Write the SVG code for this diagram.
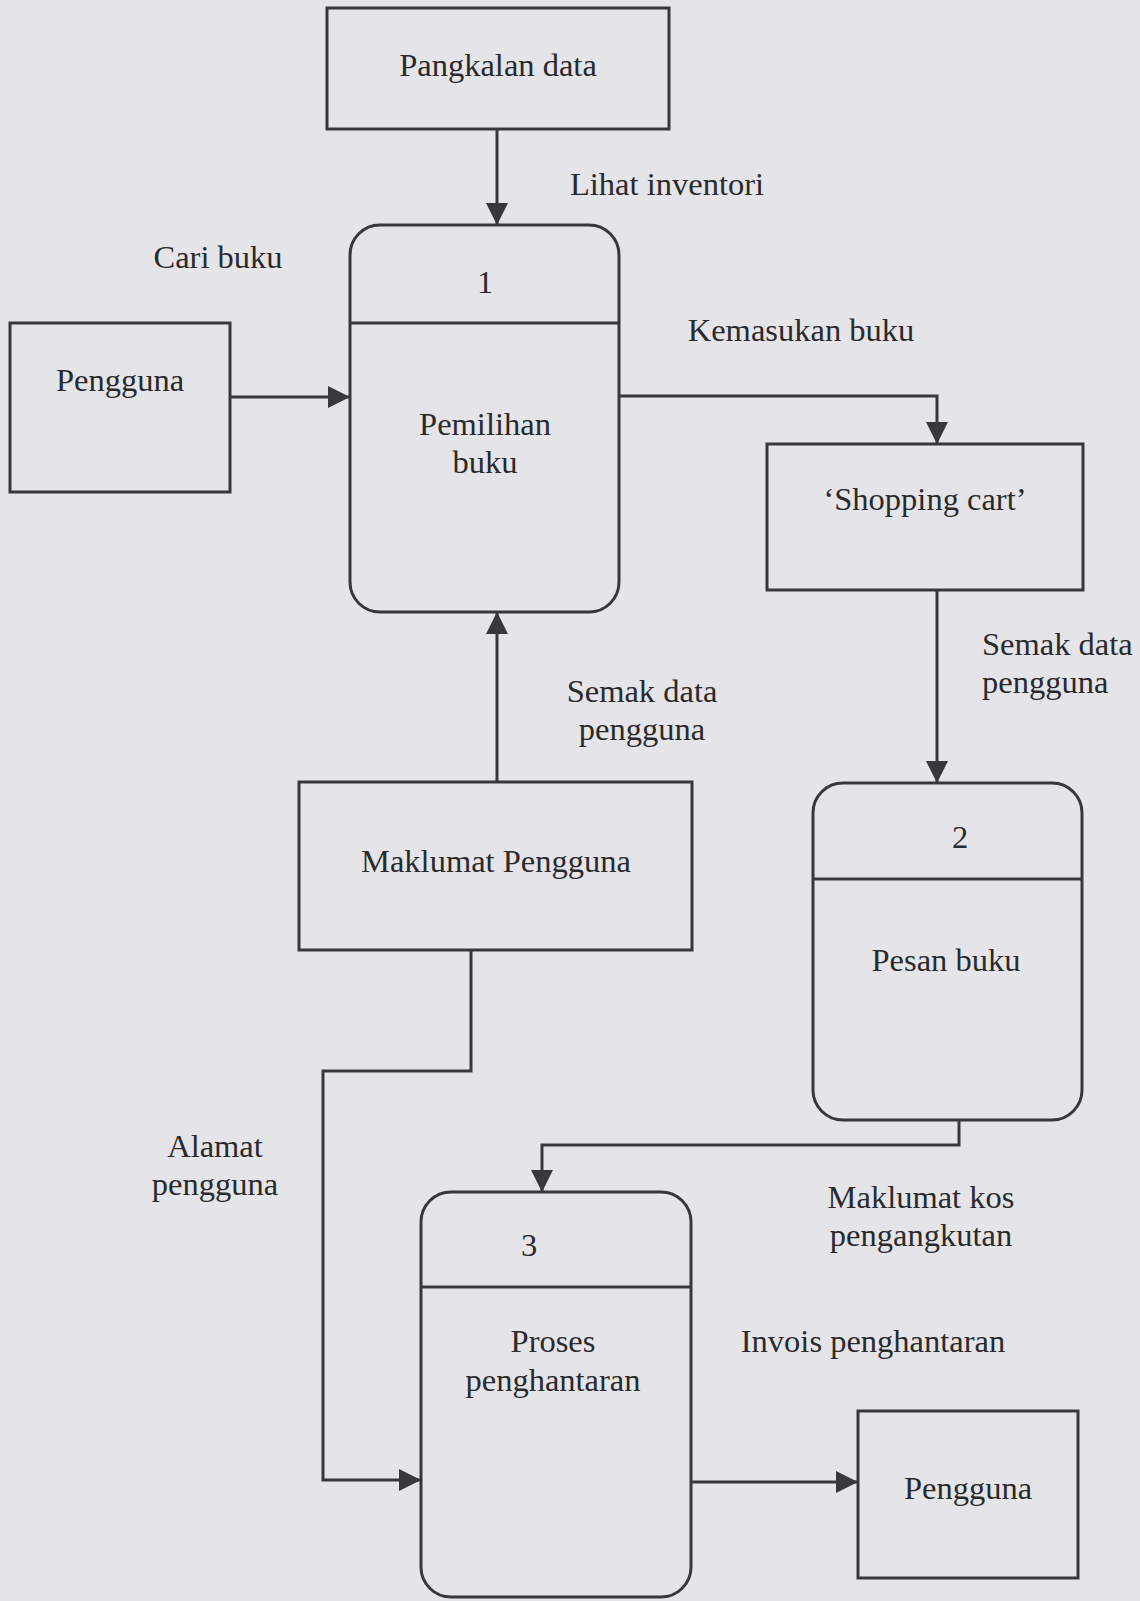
<svg xmlns="http://www.w3.org/2000/svg" width="1140" height="1601" viewBox="0 0 1140 1601">
<style>
.bg{fill:#e5e5e9}
.box{fill:none;stroke:#38383a;stroke-width:3}
.ln{fill:none;stroke:#38383a;stroke-width:3}
text{font-family:"Liberation Serif","Times New Roman",serif;font-size:32.5px;fill:#2a2a2c;text-anchor:middle}
.l{text-anchor:start}
</style>
<defs>
<marker id="ah" markerUnits="userSpaceOnUse" markerWidth="24" markerHeight="22" refX="22" refY="11" orient="auto">
<path d="M0,0 L22,11 L0,22 Z" fill="#38383a"/>
</marker>
</defs>
<rect class="bg" x="0" y="0" width="1140" height="1601"/>

<g id="connectors">
<path class="ln" d="M497,129 V225" marker-end="url(#ah)"/>
<path class="ln" d="M231,397 H350" marker-end="url(#ah)"/>
<path class="ln" d="M619,396 H937 V444" marker-end="url(#ah)"/>
<path class="ln" d="M497,782 V612" marker-end="url(#ah)"/>
<path class="ln" d="M937,590 V783" marker-end="url(#ah)"/>
<path class="ln" d="M471,950 V1071 H323 V1480 H421" marker-end="url(#ah)"/>
<path class="ln" d="M959,1120 V1145 H542 V1192" marker-end="url(#ah)"/>
<path class="ln" d="M691,1482 H858" marker-end="url(#ah)"/>
<text x="667" y="195">Lihat inventori</text>
<text x="218" y="268">Cari buku</text>
<text x="801" y="341">Kemasukan buku</text>
<text x="642" y="702">Semak data</text>
<text x="642" y="740">pengguna</text>
<text class="l" x="982" y="655">Semak data</text>
<text class="l" x="982" y="693">pengguna</text>
<text x="215" y="1157">Alamat</text>
<text x="215" y="1195">pengguna</text>
<text x="921" y="1208">Maklumat kos</text>
<text x="921" y="1246">pengangkutan</text>
<text x="873" y="1352">Invois penghantaran</text>
</g>

<g id="pangkalan-data">
<rect class="box" x="327" y="8" width="342" height="121"/>
<text x="498" y="76">Pangkalan data</text>
</g>

<g id="pengguna-1">
<rect class="box" x="10" y="323" width="220" height="169"/>
<text x="120" y="391">Pengguna</text>
</g>

<g id="process-1">
<rect class="box" x="350" y="225" width="269" height="387" rx="30" ry="30"/>
<line class="box" x1="350" y1="323" x2="619" y2="323"/>
<text x="485" y="293">1</text>
<text x="485" y="435">Pemilihan</text>
<text x="485" y="473">buku</text>
</g>

<g id="shopping-cart">
<rect class="box" x="767" y="444" width="316" height="146"/>
<text x="925" y="510">‘Shopping cart’</text>
</g>

<g id="maklumat-pengguna">
<rect class="box" x="299" y="782" width="393" height="168"/>
<text x="496" y="872">Maklumat Pengguna</text>
</g>

<g id="process-2">
<rect class="box" x="813" y="783" width="269" height="337" rx="30" ry="30"/>
<line class="box" x1="813" y1="879" x2="1082" y2="879"/>
<text x="960" y="848">2</text>
<text x="946" y="971">Pesan buku</text>
</g>

<g id="process-3">
<rect class="box" x="421" y="1192" width="270" height="405" rx="30" ry="30"/>
<line class="box" x1="421" y1="1287" x2="691" y2="1287"/>
<text x="529" y="1256">3</text>
<text x="553" y="1352">Proses</text>
<text x="553" y="1391">penghantaran</text>
</g>

<g id="pengguna-2">
<rect class="box" x="858" y="1411" width="220" height="167"/>
<text x="968" y="1499">Pengguna</text>
</g>
</svg>
